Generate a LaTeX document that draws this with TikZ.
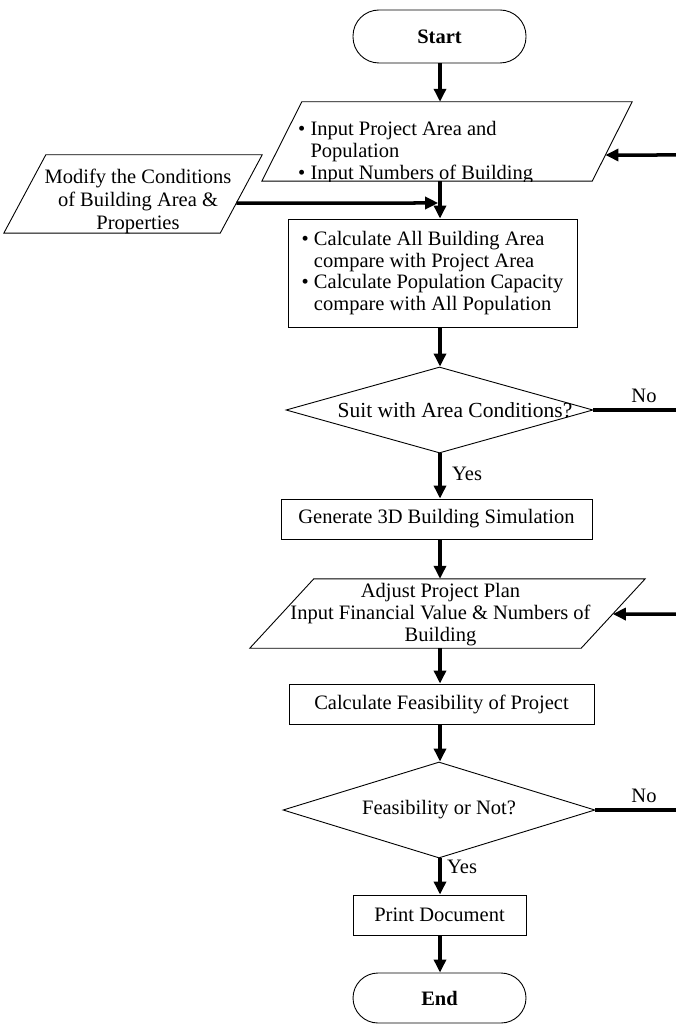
\documentclass[tikz,border=0pt]{standalone}
\usepackage{fontspec}
\setmainfont{Liberation Serif}
\usetikzlibrary{shapes.geometric,arrows.meta,calc}
\newcommand{\drawpara}[2]{%
  \coordinate (#1tl) at ($(#1.north west)+(#2/2,0)$);
  \coordinate (#1tr) at ($(#1.north east)+(#2/2,0)$);
  \coordinate (#1br) at ($(#1.south east)-(#2/2,0)$);
  \coordinate (#1bl) at ($(#1.south west)-(#2/2,0)$);
  \draw[line width=0.9pt] (#1tl) -- (#1tr) -- (#1br) -- (#1bl) -- cycle;}
\begin{document}
\begin{tikzpicture}[x=1pt,y=-1pt,
  font=\fontsize{20.5}{21.7}\selectfont,
  shp/.style={draw, line width=0.9pt, inner sep=0pt},
  boxn/.style={shp, rectangle, align=center},
  term/.style={shp, rectangle, font=\fontsize{20.5}{22}\selectfont\bfseries},
  io/.style={rectangle, inner sep=0pt},
  dec/.style={shp, diamond},
  arr/.style={line width=3.5pt, -{Triangle[length=13pt,width=12pt]}},
  noline/.style={line width=3.5pt},
  lbl/.style={inner sep=0pt},
]
\useasboundingbox (0,0) rectangle (676,1024);
\coordinate (sp) at (440,0);
\coordinate (edge) at (676,0);

% shapes
\node[term, rounded corners=26pt, minimum width=173pt, minimum height=53pt] (start) at (439.5,36.5) {Start};
\node[io, minimum width=330pt, minimum height=79pt] (p1) at (447,141.5) {};
\drawpara{p1}{40}
\node[lbl, anchor=west, align=left] (p1t) at (298,152.5) {\textbullet\ Input Project Area and\\\hphantom{\textbullet\ }Population\\\textbullet\ Input Numbers of Building};
\fill[white] (296,181.6) rectangle (600,192);
\node[io, minimum width=216pt, minimum height=78pt] (mod) at (133,194) {};
\drawpara{mod}{42}
\node[lbl, align=center, font=\fontsize{20.5}{23}\selectfont] (modt) at (138,201) {Modify the Conditions\\of Building Area \&\\Properties};
\node[boxn, align=left, minimum width=289pt, minimum height=108pt] (calc) at (432.5,273) {\textbullet\ Calculate All Building Area\\\hphantom{\textbullet\ }compare with Project Area\\\textbullet\ Calculate Population Capacity\\\hphantom{\textbullet\ }compare with All Population};
\node[dec, minimum width=307pt, minimum height=86pt] (d1) at (439.5,410) {};
\node[lbl, font=\fontsize{21.5}{22}\selectfont] (d1t) at (455,410) {Suit with Area Conditions?};
\node[boxn, minimum width=311pt, minimum height=40pt] (gen) at (436.5,519) {Generate 3D Building Simulation};
\node[io, minimum width=331pt, minimum height=69pt] (p2) at (447.5,613.5) {};
\drawpara{p2}{64}
\node[lbl, align=center] (p2t) at (440.5,614.7) {Adjust Project Plan\\Input Financial Value \& Numbers of\\Building};
\node[boxn, minimum width=305pt, minimum height=40pt] (feas) at (441.5,704) {Calculate Feasibility of Project};
\node[dec, minimum width=312pt, minimum height=96pt] (d2) at (439,810) {};
\node[lbl] (d2t) at (439,810) {Feasibility or Not?};
\node[boxn, minimum width=173pt, minimum height=40pt] (print) at (439.5,915) {Print Document};
\node[term, rounded corners=25pt, minimum width=173pt, minimum height=50pt] (end) at (439.5,998) {End};

% labels
\node[lbl, anchor=base] (no1) at (644,402) {No};
\node[lbl, anchor=base] (no2) at (644,802) {No};
\node[lbl, anchor=base west] (yes1) at (452,480) {Yes};
\node[lbl, anchor=base west] (yes2) at (447,873) {Yes};

% main flow
\draw[arr] (sp |- start.south) -- (sp |- p1.north);
\draw[arr] (sp |- p1.south) -- (sp |- calc.north);
\draw[arr] (sp |- calc.south) -- (sp |- d1.north);
\draw[arr] (sp |- d1.south) -- (sp |- gen.north);
\draw[arr] (sp |- gen.south) -- (sp |- p2.north);
\draw[arr] (sp |- p2.south) -- (sp |- feas.north);
\draw[arr] (sp |- feas.south) -- (sp |- d2.north);
\draw[arr] (sp |- d2.south) -- (sp |- print.north);
\draw[arr] (sp |- print.south) -- (sp |- end.north);

% side connectors
\coordinate (r1) at (676,155);
\coordinate (r1b) at (400,155);
\draw[arr] (r1) -- (intersection of r1--r1b and p1tr--p1br);
\coordinate (r2) at (676,614);
\coordinate (r2b) at (400,614);
\draw[arr] (r2) -- (intersection of r2--r2b and p2tr--p2br);
\coordinate (j1) at (438.2,203);
\coordinate (j1b) at (0,203);
\draw[arr] (intersection of j1--j1b and modtr--modbr) -- (j1);
\draw[noline] (d1.east) -- (d1.east -| edge);
\draw[noline] (d2.east) -- (d2.east -| edge);
\end{tikzpicture}
\end{document}
